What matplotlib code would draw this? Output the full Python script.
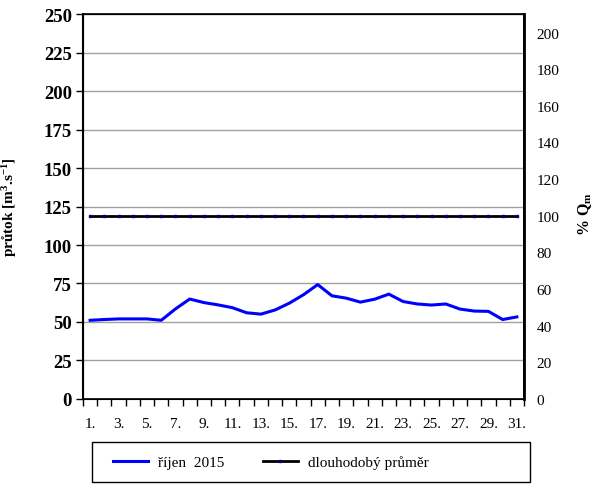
import numpy as np
import matplotlib.pyplot as plt
from matplotlib.patches import Rectangle

plt.rcParams['font.family'] = ['Liberation Serif', 'DejaVu Serif']
plt.rcParams['mathtext.default'] = 'regular'

dny = np.arange(1, 32)
prutok = [51.1, 51.6, 52, 52, 52, 51.1, 58.5, 64.9, 62.6, 61.1,
          59.3, 56, 55.1, 57.8, 62.2, 67.7, 74.3, 67, 65.5, 62.9,
          64.8, 68.1, 63.3, 61.7, 61, 61.7, 58.4, 57.1, 56.9, 51.6, 53.3]
Qm = 119
prumer = [Qm] * 31
popisky = [f"{d}." for d in range(1, 32, 2)]

fig = plt.figure(figsize=(5.93, 4.85), dpi=100)
ax = fig.add_axes([0.14, 0.1753, 0.7436, 0.7937])

ax.plot(dny, prutok, color='#0000ff', lw=2.2, label='říjen  2015', zorder=3)
ax.plot(dny, prumer, color='black', lw=2, marker='s', ms=1.8,
        mfc='#000080', mec='#000080', label='dlouhodobý průměr', zorder=3)

ax.set_xlim(0.5, 31.5)
ax.set_ylim(0, 250)
ax.set_yticks(np.arange(0, 251, 25))
ax.yaxis.grid(True, color='#a0a0a0', lw=1)
ax.set_axisbelow(True)
for lab in ax.get_yticklabels():
    lab.set_fontweight('bold')
ax.tick_params(axis='y', labelsize=13.5, length=5, width=1, direction='out', pad=3)

ax.set_xticks(np.arange(0.5, 32, 1))
ax.set_xticklabels([])
ax.set_xticks(np.arange(1, 32, 2), minor=True)
ax.set_xticklabels(popisky, minor=True)
ax.tick_params(axis='x', which='major', length=5, width=1, direction='out')
ax.tick_params(axis='x', which='minor', length=0, labelsize=11, pad=13)

for s in ax.spines.values():
    s.set_linewidth(1.2)
ax.spines['left'].set_linewidth(1.5)

ax.set_ylabel(r'průtok [m$^{3}$.s$^{-1}$]', fontweight='bold', fontsize=11)
ax.yaxis.set_label_coords(-0.145, 0.5)

ax2 = ax.twinx()
ax2.set_ylim(0, 250 / Qm * 100)
ax2.set_yticks(np.arange(0, 201, 20))
ax2.tick_params(axis='y', length=0, labelsize=11, pad=9)
ax2.spines['right'].set_linewidth(2)
ax2.set_ylabel(r'% Q$_{m}$', fontweight='bold', fontsize=11.5)
ax2.yaxis.set_label_coords(1.118, 0.483)

# ramecek legendy
fig.patches.append(Rectangle((92 / 593, 2 / 485), 438 / 593, 40 / 485,
                             transform=fig.transFigure, fill=False,
                             edgecolor='black', lw=1))
h, l = ax.get_legend_handles_labels()
fig.legend(h, l, loc='center left', bbox_to_anchor=(113 / 593, 22 / 485), ncol=2,
           fontsize=11, frameon=False, borderpad=0, borderaxespad=0,
           handlelength=2.3, handletextpad=0.65, columnspacing=2.5)

fig.savefig('out.png', dpi=100)
